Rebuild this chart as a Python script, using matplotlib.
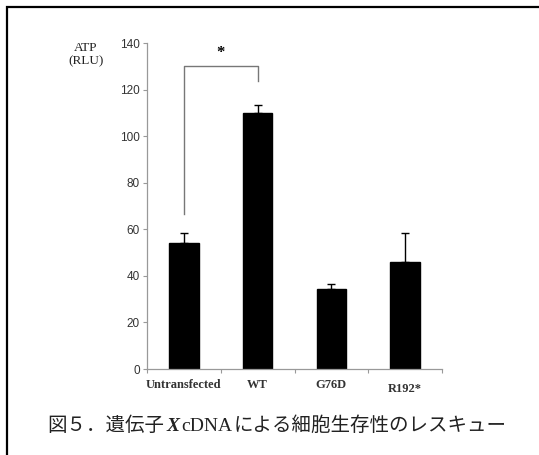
import matplotlib
matplotlib.use("Agg")
import matplotlib.pyplot as plt
from matplotlib.patches import Rectangle

categories = ["Untransfected", "WT", "G76D", "R192*"]
values = [54, 110, 34.3, 46]
errors_up = [4.5, 3.3, 2.3, 12.3]
yticks = [0, 20, 40, 60, 80, 100, 120, 140]
ylabel = "ATP\n(RLU)"
caption_parts = [("図５．遺伝子", "jp"), ("X", "xi"), ("cDNA", "serif"),
                 ("による細胞生存性のレスキュー", "jp")]
sig_pair = (0, 1)
sig_levels = (66.4, 130.2, 123.6)  # left leg bottom, bracket top, right leg bottom

W, H = 539, 455
fig = plt.figure(figsize=(W / 100, H / 100), dpi=100)
fig.patch.set_facecolor("white")

# outer frame
fig.patches.append(Rectangle((7 / W, -0.05), 1.1, 1 - 7 / H + 0.05,
                             transform=fig.transFigure, fill=False,
                             edgecolor="black", linewidth=1.6))

ax = fig.add_axes([147 / W, 1 - 369 / H, (442 - 147) / W, (369 - 43) / H])
x = list(range(len(categories)))
ax.bar(x, values, width=0.4, color="black", edgecolor="black", zorder=2)
ax.errorbar(x, values, yerr=[[0] * len(errors_up), errors_up], fmt="none",
            ecolor="black", elinewidth=1, capsize=2.6, capthick=1, zorder=3)

ax.set_xlim(-0.5, len(categories) - 0.5)
ax.set_ylim(0, 140)
ax.set_yticks(yticks)
ax.set_yticklabels([str(t) for t in yticks], fontsize=8.5,
                   family="Liberation Sans", color="#333333")
ax.tick_params(axis="y", direction="out", length=3, width=0.8,
               color="#999999", pad=2)
ax.set_xticks([i - 0.5 for i in range(len(categories) + 1)])
ax.set_xticklabels([])
ax.tick_params(axis="x", direction="out", length=3, width=0.8, color="#999999")
for i, c in enumerate(categories):
    dy = -10 if c.startswith("R192") else -7
    ax.annotate(c, xy=(i, 0), xycoords=("data", "data"), xytext=(0, dy),
                textcoords="offset points", ha="center", va="top",
                fontsize=9, family="Liberation Serif", fontweight="bold",
                color="#333333")
for s in ["top", "right"]:
    ax.spines[s].set_visible(False)
for s in ["left", "bottom"]:
    ax.spines[s].set_color("#999999")
    ax.spines[s].set_linewidth(0.9)

# ylabel
fig.text(86 / W, 1 - 55 / H, ylabel, ha="center", va="center",
         fontsize=9.5, family="Liberation Serif",
         color="#222222", linespacing=1.15)

# significance bracket
a, b = sig_pair
lb, top, rb = sig_levels
ax.plot([a, a, b, b], [lb, top, top, rb], color="#777777", lw=1,
        clip_on=False, zorder=4)
ax.text((a + b) / 2, 135.5, "*", ha="center", va="center", fontsize=12,
        family="Liberation Serif", fontweight="bold", clip_on=False)

# caption
fams = {"jp": dict(family="Noto Sans CJK JP"),
        "xi": dict(family="Liberation Serif", style="italic", fontweight="bold"),
        "serif": dict(family="Liberation Serif")}
fig.canvas.draw()
renderer = fig.canvas.get_renderer()
xpix = 47
ybase = 1 - 431 / H
for txt, kind in caption_parts:
    t = fig.text(xpix / W, ybase, txt, ha="left", va="baseline",
                 fontsize=14, color="#222222", **fams[kind])
    bb = t.get_window_extent(renderer=renderer)
    xpix += bb.width + (2 if kind != "jp" else 2)

fig.savefig("out.png", dpi=100, facecolor="white")
